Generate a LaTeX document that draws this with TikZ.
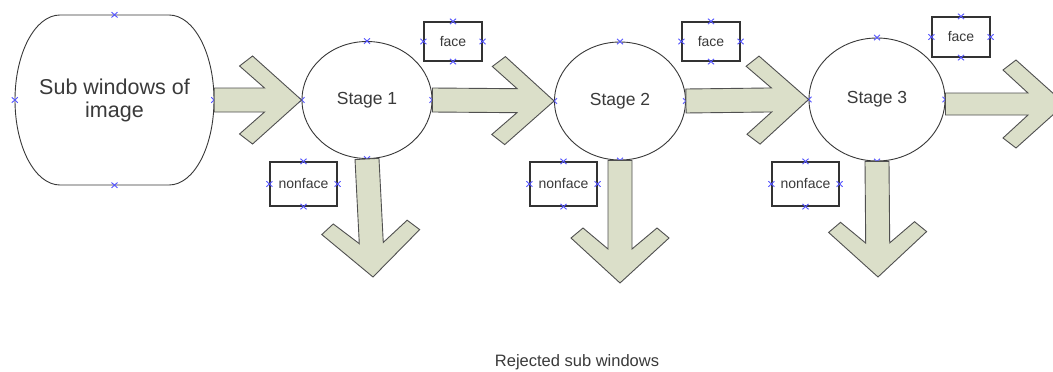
\documentclass[tikz,border=0pt]{standalone}
\usepackage{fontspec}
\setmainfont{Liberation Sans}
\usetikzlibrary{calc,shapes.geometric}
\definecolor{arrfill}{RGB}{219,223,201}
\definecolor{arrline}{RGB}{80,80,80}
\definecolor{mkblue}{RGB}{85,85,255}
\definecolor{txt}{RGB}{58,58,58}
% #1 start, #2 tip, #3/#4 outer wing back/side, #5/#6 inner wing back/side, #7/#8 inner corner back/side
\newcommand{\blockarr}[8]{%
  \draw[blockarrow] ($(#1)!#8!-90:(#2)$) -- ($(#2)!#7!(#1)!#8!90:(#1)$)
    -- ($(#2)!#5!(#1)!#6!90:(#1)$) -- ($(#2)!#3!(#1)!#4!90:(#1)$) -- (#2)
    -- ($(#2)!#3!(#1)!#4!-90:(#1)$) -- ($(#2)!#5!(#1)!#6!-90:(#1)$)
    -- ($(#2)!#7!(#1)!#8!-90:(#1)$) -- ($(#1)!#8!90:(#2)$) -- cycle;}
\tikzset{
  stage/.style={ellipse, draw=black!78, line width=0.9pt, fill=white, inner sep=0pt,
    font=\fontsize{17.5}{20}\selectfont, text=txt},
  lbox/.style={rectangle, draw=black!80, line width=1.2pt, fill=white, inner sep=0pt,
    font=\fontsize{14}{16}\selectfont, text=txt},
  blockarrow/.style={fill=arrfill, draw=arrline, line width=0.9pt, line join=miter},
  mk/.style={draw=mkblue, line width=0.9pt}
}
\begin{document}
\begin{tikzpicture}[x=1pt, y=-1pt]
\clip (0,0) rectangle (1053,372);
\fill[white] (0,0) rectangle (1053,372);
% source shape
\draw[line width=0.9pt, draw=black!78] (60,15) -- (169,15)
  .. controls (193.9,15) and (214,53.1) .. (214,100)
  .. controls (214,146.9) and (193.9,185) .. (169,185) -- (60,185)
  .. controls (35.1,185) and (15,146.9) .. (15,100)
  .. controls (15,53.1) and (35.1,15) .. (60,15) -- cycle;
\node[draw=none, minimum width=199pt, minimum height=170pt, inner sep=0pt, align=center,
  font=\fontsize{21.5}{23}\selectfont, text=txt] (sub) at (114.5,100) {Sub windows of\\image};
% stages
\node[stage, minimum width=130pt, minimum height=117pt] (s1) at (367,100) {Stage 1};
\node[stage, minimum width=131pt, minimum height=118pt] (s2) at (620,101) {Stage 2};
\node[stage, minimum width=136pt, minimum height=123pt] (s3) at (877,99.5) {Stage 3};
% labels
\node[lbox, minimum width=58pt, minimum height=39pt] (f1) at (453,41.5) {face};
\node[lbox, minimum width=58pt, minimum height=39pt] (f2) at (711,41.5) {face};
\node[lbox, minimum width=58pt, minimum height=40pt] (f3) at (961,37) {face};
\node[lbox, minimum width=67pt, minimum height=44pt] (n1) at (303.5,184) {nonface};
\node[lbox, minimum width=67pt, minimum height=44pt] (n2) at (563.5,184) {nonface};
\node[lbox, minimum width=67pt, minimum height=44pt] (n3) at (805.5,184) {nonface};
% connection markers
\foreach \n in {sub,s1,s2,s3,f1,f2,f3,n1,n2,n3}
  \foreach \a in {north,south,east,west}
    \draw[mk] ([shift={(-3pt,-2.7pt)}]\n.\a) -- ([shift={(3pt,2.7pt)}]\n.\a)
              ([shift={(-3pt,2.7pt)}]\n.\a) -- ([shift={(3pt,-2.7pt)}]\n.\a);
% arrow end points
\coordinate (t1) at (373,277);
\coordinate (t2) at (620,283);
\coordinate (t3) at (878,277);
\coordinate (t4) at (1065,104);
\coordinate (a4) at (s3.east |- t4);
% arrows
\blockarr{sub.east}{s1.west}{49pt}{44pt}{62pt}{34pt}{37pt}{12pt}
\blockarr{s1.east}{s2.west}{49pt}{44pt}{62pt}{34pt}{37pt}{12pt}
\blockarr{s2.east}{s3.west}{49pt}{44pt}{62pt}{34pt}{37pt}{12pt}
\blockarr{a4}{t4}{49pt}{44pt}{62pt}{34pt}{37pt}{11pt}
\blockarr{s1.south}{t1}{45pt}{49pt}{55pt}{37pt}{34pt}{12pt}
\blockarr{s2.south}{t2}{45pt}{49pt}{55pt}{37pt}{34pt}{12pt}
\blockarr{s3.south}{t3}{45pt}{49pt}{55pt}{37pt}{34pt}{12pt}
% caption
\node[font=\fontsize{16.5}{19}\selectfont, text=txt, inner sep=0pt] (rej) at (577,362) {Rejected sub windows};
\end{tikzpicture}
\end{document}
